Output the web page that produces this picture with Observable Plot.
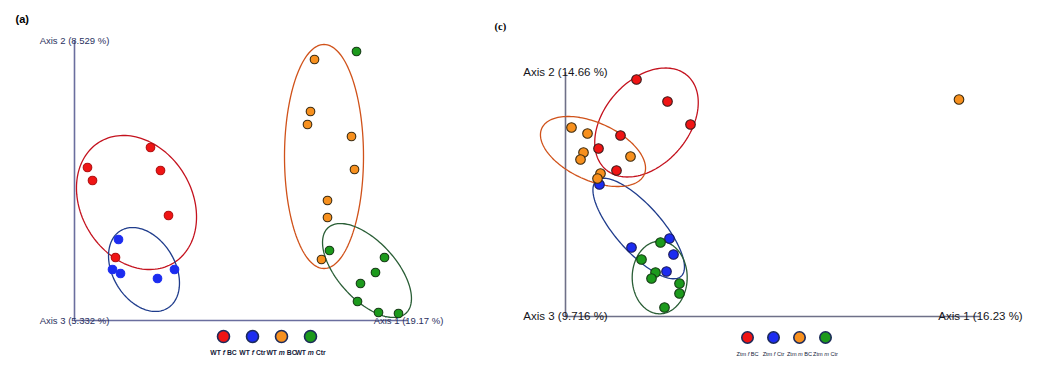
<!DOCTYPE html>
<html><head><meta charset="utf-8">
<script src="https://cdn.jsdelivr.net/npm/d3@7"></script>
<script src="https://cdn.jsdelivr.net/npm/@observablehq/plot@0.6"></script>
<style>
body{margin:0;background:#fff;}
#wrap{position:relative;width:1042px;height:369px;overflow:hidden;}
#wrap > svg{position:absolute;}
</style></head><body><div id="wrap"></div>
<script>
// ---------- Data (PCoA scores) ----------
const groupsA = ["WT f BC", "WT f Ctr", "WT m BC", "WT m Ctr"];
const groupsC = ["Ztm f BC", "Ztm f Ctr", "Ztm m BC", "Ztm m Ctr"];
const fills = ["#f01414", "#1c2cf0", "#f7901e", "#1c9a1c"];
const ellipseStrokes = ["#c4121e", "#1f3c8c", "#d0521a", "#2a5e36"];

// panel (a): [axis 1, axis 2]
const wtFemaleBC  = [[0.13,1.53],[0.18,1.40],[0.76,1.73],[0.86,1.50],[0.94,1.05],[0.41,0.63]];
const wtFemaleCtr = [[0.44,0.81],[0.38,0.51],[0.46,0.47],[0.83,0.42],[1.00,0.51]];
const wtMaleBC    = [[2.40,2.61],[2.36,2.09],[2.33,1.96],[2.77,1.84],[2.80,1.51],[2.53,1.20],[2.53,1.03],[2.47,0.61]];
const wtMaleCtr   = [[2.82,2.69],[2.55,0.70],[3.10,0.63],[3.01,0.48],[2.86,0.37],[2.83,0.19],[3.04,0.08],[3.24,0.07]];
// panel (c)
const ztmFemaleBC  = [[0.71,2.37],[1.02,2.15],[1.25,1.92],[0.55,1.81],[0.33,1.68],[0.51,1.46]];
const ztmFemaleCtr = [[0.34,1.32],[0.66,0.69],[1.04,0.78],[1.08,0.62],[1.01,0.45]];
const ztmMaleBC    = [[0.06,1.89],[0.22,1.83],[0.18,1.64],[0.15,1.57],[0.65,1.60],[0.35,1.43],[0.32,1.38],[3.935,2.17]];
const ztmMaleCtr   = [[0.95,0.74],[0.76,0.57],[0.90,0.44],[0.86,0.38],[1.14,0.33],[1.14,0.23],[0.99,0.09]];

// confidence ellipses per group: centre, semi-axes, rotation (deg)
const ellA_cx = [0.62, 0.695, 2.495, 2.925];
const ellA_cy = [1.18, 0.51, 1.64, 0.50];
const ellA_rx = [0.709, 0.453, 1.12, 0.578];
const ellA_ry = [0.554, 0.311, 0.395, 0.29];
const ellA_ang = [-58.5, -58.8, 90, -47.6];
const ellC_cx = [0.81, 0.732, 0.275, 0.942];
const ellC_cy = [1.94, 0.88, 1.65, 0.39];
const ellC_rx = [0.622, 0.639, 0.562, 0.363];
const ellC_ry = [0.422, 0.232, 0.288, 0.275];
const ellC_ang = [49, -48.5, -24.4, 90];

// axis lengths [axis 1, axis 2] and axis titles
const axisLenA = [3.34, 2.80];
const axisLenC = [4.15, 2.44];
const axisTitlesA = ["Axis 1 (19.17 %)", "Axis 2 (8.529 %)", "Axis 3 (5.332 %)"];
const axisTitlesC = ["Axis 1 (16.23 %)", "Axis 2 (14.66 %)", "Axis 3 (9.716 %)"];

// ---------- helpers ----------
function toPoints(series, groups) {
  return series.flatMap((s, gi) => s.map(([x, y]) => ({x, y, gi, group: groups[gi], fill: fills[gi]})));
}
function ellipses(cx, cy, rx, ry, ang) {
  return cx.flatMap((c, gi) => {
    const th = ang[gi] * Math.PI / 180;
    return d3.range(0, 145).map(i => {
      const t = i / 144 * 2 * Math.PI;
      return {gi, stroke: ellipseStrokes[gi],
        x: c + rx[gi]*Math.cos(t)*Math.cos(th) - ry[gi]*Math.sin(t)*Math.sin(th),
        y: cy[gi] + rx[gi]*Math.cos(t)*Math.sin(th) + ry[gi]*Math.sin(t)*Math.cos(th)};
    });
  });
}
const drawOrder = [1, 3, 0, 2];

function panel({width, xDomain, yDomain, series, groups, ell, axisLen, titles, axisColor, textColor, fontSize, label, labelFont, labelDx, labelDy, labelSize, dotR, dotStrokes}) {
  const pts = toPoints(series, groups).sort((a, b) => drawOrder.indexOf(a.gi) - drawOrder.indexOf(b.gi));
  return Plot.plot({
    width, height: 369, margin: 0,
    style: {background: "transparent", overflow: "visible"},
    x: {domain: xDomain, axis: null},
    y: {domain: yDomain, axis: null},
    color: {type: "identity"},
    marks: [
      Plot.ruleX([0], {y1: 0, y2: axisLen[1], stroke: axisColor, strokeWidth: 1.6}),
      Plot.ruleY([0], {x1: 0, x2: axisLen[0], stroke: axisColor, strokeWidth: 1.6}),
      Plot.line(ell, {x: "x", y: "y", z: "gi", stroke: "stroke", strokeWidth: 1.3, curve: "linear"}),
      Plot.dot(pts, {x: "x", y: "y", r: dotR, fill: "fill", stroke: d => dotStrokes[d.gi], strokeWidth: 1.1}),
      Plot.text([titles[1]], {x: 0, y: axisLen[1], text: d => d, fill: textColor, fontSize, fontFamily: "Liberation Sans, Arial, sans-serif", textAnchor: "middle"}),
      Plot.text([titles[2]], {x: 0, y: 0, text: d => d, fill: textColor, fontSize, fontFamily: "Liberation Sans, Arial, sans-serif", textAnchor: "middle"}),
      Plot.text([titles[0]], {x: axisLen[0], y: 0, text: d => d, fill: textColor, fontSize, fontFamily: "Liberation Sans, Arial, sans-serif", textAnchor: "middle"}),
      Plot.text([label], {frameAnchor: "top-left", dx: labelDx, dy: labelDy, text: d => d, fontWeight: "bold", fontSize: labelSize, fontFamily: labelFont, fill: "#000", textAnchor: "start"})
    ]
  });
}

function legend({groups, range, width, fontSize, fontWeight, r, textDy, textColor}) {
  const svg = Plot.plot({
    width, height: 40, margin: 0,
    style: {background: "transparent", overflow: "visible"},
    x: {type: "point", domain: groups, range, axis: null},
    marks: [
      Plot.dot(groups, {x: d => d, fill: (d, i) => fills[i], stroke: "#1c2a5a", strokeWidth: 1.6, r, dy: -10}),
      Plot.text(groups, {x: d => d, text: d => d, dy: textDy, fill: textColor, fontSize, fontWeight, fontFamily: "Liberation Sans, Arial, sans-serif"})
    ]
  });
  // italicise the sex letter (f / m)
  d3.select(svg).selectAll("text").each(function() {
    const parts = this.textContent.split(" ");
    if (parts.length !== 3) return;
    const sel = d3.select(this); sel.text(null);
    sel.append("tspan").text(parts[0] + " ");
    sel.append("tspan").attr("font-style", "italic").text(parts[1]);
    sel.append("tspan").text(" " + parts[2]);
  });
  return svg;
}

const wrap = document.getElementById("wrap");

const pA = panel({
  width: 480, xDomain: [-0.74, 4.06], yDomain: [-0.49, 3.20],
  series: [wtFemaleBC, wtFemaleCtr, wtMaleBC, wtMaleCtr], groups: groupsA,
  ell: ellipses(ellA_cx, ellA_cy, ellA_rx, ellA_ry, ellA_ang),
  axisLen: axisLenA, titles: axisTitlesA, axisColor: "#6a6e9e", textColor: "#2a3160", fontSize: 9.5,
  label: "(a)", labelFont: "Liberation Sans, Arial, sans-serif", labelDx: 15, labelDy: 15, labelSize: 11,
  dotR: 4.3, dotStrokes: ["#b01010", "#1c2cf0", "#3a2a10", "#143a14"]
});
pA.style.left = "0px"; pA.style.top = "0px";
wrap.appendChild(pA);

const pC = panel({
  width: 562, xDomain: [-0.85, 4.77], yDomain: [-0.53, 3.16],
  series: [ztmFemaleBC, ztmFemaleCtr, ztmMaleBC, ztmMaleCtr], groups: groupsC,
  ell: ellipses(ellC_cx, ellC_cy, ellC_rx, ellC_ry, ellC_ang),
  axisLen: axisLenC, titles: axisTitlesC, axisColor: "#6e7088", textColor: "#151520", fontSize: 11.5,
  label: "(c)", labelFont: "Liberation Serif, Times New Roman, serif", labelDx: 14, labelDy: 22, labelSize: 10.5,
  dotR: 4.8, dotStrokes: ["#3a1a1a", "#1a1a5a", "#3a2a10", "#143a14"]
});
pC.style.left = "480px"; pC.style.top = "0px";
wrap.appendChild(pC);

const lA = legend({groups: groupsA, range: [20, 137], width: 160, fontSize: 6.8, fontWeight: 600, r: 6, textDy: 6, textColor: "#141a3a"});
lA.style.left = "188px"; lA.style.top = "326px";
wrap.appendChild(lA);

const lC = legend({groups: groupsC, range: [20, 127], width: 150, fontSize: 5.6, fontWeight: "normal", r: 5.7, textDy: 7, textColor: "#141a3a"});
lC.style.left = "712px"; lC.style.top = "327px";
wrap.appendChild(lC);
</script></body></html>
